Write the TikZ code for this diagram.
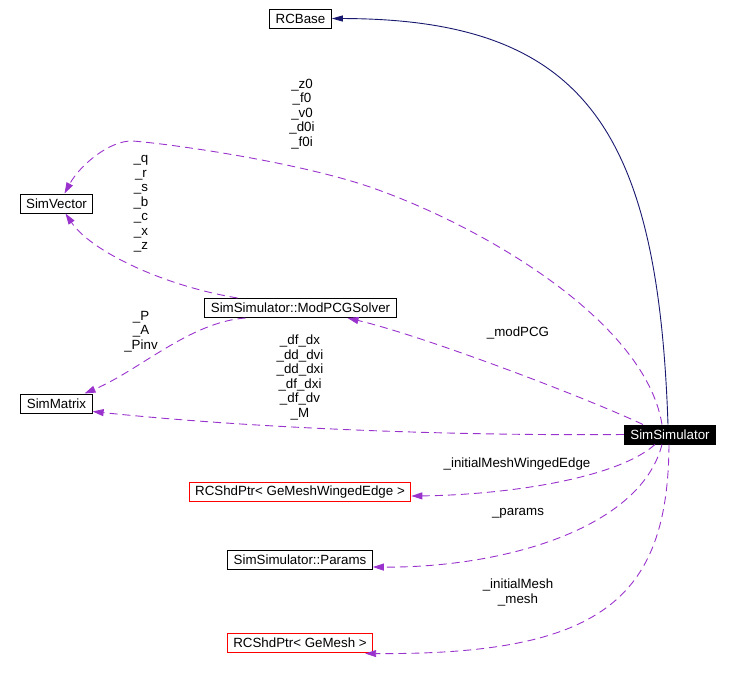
\documentclass[tikz,border=0pt]{standalone}
\usepackage{fontspec}
\setmainfont{Liberation Sans}
\usetikzlibrary{arrows.meta}
\definecolor{edgepurple}{RGB}{154,50,205}
\definecolor{edgenavy}{RGB}{25,25,112}
\begin{document}
\begin{tikzpicture}[x=1pt,y=-1pt, font=\fontsize{13.33}{14.5}\selectfont,
  cls/.style={draw=black, line width=1pt, inner xsep=6pt, inner ysep=0pt, minimum height=19pt, fill=white},
  redcls/.style={cls, draw=red},
  cur/.style={cls, fill=black, text=white},
  lbl/.style={align=center, inner sep=0pt},
  mem/.style={draw=edgepurple, line width=0.9pt, dash pattern=on 8pt off 5pt, -{Triangle[length=11pt,width=7pt]}},
  inh/.style={draw=edgenavy, line width=0.9pt, -{Triangle[length=11pt,width=6pt]}}]
\useasboundingbox (0,0) rectangle (732,673);

\node[cls] (rb) at (300.5,18.5) {RCBase};
\node[cls] (sv) at (56.5,203.5) {SimVector};
\node[cls] (mp) at (300.5,308) {SimSimulator::ModPCGSolver};
\node[cls] (sm) at (56.5,403.5) {SimMatrix};
\node[cur] (ss) at (670,434.5) {SimSimulator};
\node[redcls] (we) at (300,492) {RCShdPtr< GeMeshWingedEdge >};
\node[cls] (pa) at (300,559.5) {SimSimulator::Params};
\node[redcls] (gm) at (300,642.5) {RCShdPtr< GeMesh >};

\coordinate (v1) at (370,187);
\coordinate (v2) at (133,141);

\draw[inh] ([xshift=-2pt]ss.north) .. controls (658,130) and (585,19) .. (rb.east);
\draw[mem] ([xshift=-8pt]ss.north) .. controls (645,320) and (480,225) .. (v1) .. controls (300,163) and (180,145) .. (v2) .. controls (110,140) and (80,165) .. ([xshift=8pt]sv.north);
\draw[mem] ([xshift=-63pt]mp.north) .. controls (160,285) and (90,250) .. ([xshift=9pt]sv.south);
\draw[mem] ([xshift=-55pt]mp.south) .. controls (190,322) and (140,370) .. ([xshift=28pt]sm.north);
\draw[mem] ([xshift=-27pt]ss.north) .. controls (580,395) and (420,335) .. ([xshift=47pt]mp.south);
\draw[mem] (ss.west) .. controls (450,436) and (250,428) .. ([yshift=-8pt]sm.east);
\draw[mem] ([xshift=-15pt]ss.south) .. controls (615,480) and (500,495) .. ([yshift=-4pt]we.east);
\draw[mem] ([xshift=-8pt]ss.south) .. controls (640,530) and (500,568) .. ([yshift=-7.5pt]pa.east);
\draw[mem] ([xshift=-1pt]ss.south) .. controls (668,600) and (600,655) .. ([xshift=-8pt,yshift=-1pt]gm.south east);

\node[lbl] (l1) at (302,114) {\_z0\\\_f0\\\_v0\\\_d0i\\\_f0i};
\node[lbl] (l2) at (141,204) {\_q\\\_r\\\_s\\\_b\\\_c\\\_x\\\_z};
\node[lbl] (l3) at (141,331.5) {\_P\\\_A\\\_Pinv};
\node[lbl] (l4) at (300,377.5) {\_df\_dx\\\_dd\_dvi\\\_dd\_dxi\\\_df\_dxi\\\_df\_dv\\\_M};
\node[lbl] (l5) at (518,333) {\_modPCG};
\node[lbl] (l6) at (517,464) {\_initialMeshWingedEdge};
\node[lbl] (l7) at (518,513) {\_params};
\node[lbl] (l8) at (518,592.5) {\_initialMesh\\\_mesh};
\end{tikzpicture}
\end{document}
